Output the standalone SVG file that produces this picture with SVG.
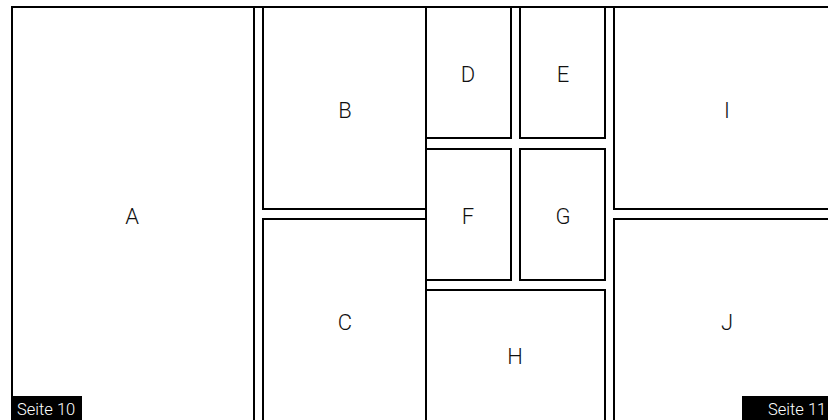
<svg xmlns="http://www.w3.org/2000/svg" width="828" height="420" viewBox="0 0 828 420">
  <style>
    .box { fill: #ffffff; stroke: #000000; stroke-width: 2; }
    .frame { fill: none; stroke: #000000; stroke-width: 2; }
    .lbl { font-family: Roboto, "Liberation Sans", sans-serif; font-weight: 300; font-size: 22px; fill: #111111; text-anchor: middle; }
    .page { fill: #000000; }
    .pagetxt { font-family: Roboto, "Liberation Sans", sans-serif; font-weight: 300; font-size: 16.5px; fill: #ffffff; }
  </style>
  <rect width="828" height="420" fill="#ffffff"/>
  <g id="frame">
    <rect class="frame" x="12" y="7" width="840" height="430"/>
  </g>
  <g id="A">
    <rect class="box" x="12" y="7" width="242" height="420"/>
    <text class="lbl" x="132" y="224">A</text>
  </g>
  <g id="B">
    <rect class="box" x="263" y="7" width="163" height="202"/>
    <text class="lbl" x="345" y="118">B</text>
  </g>
  <g id="C">
    <rect class="box" x="263" y="219" width="163" height="208"/>
    <text class="lbl" x="345" y="330">C</text>
  </g>
  <g id="D">
    <rect class="box" x="426" y="7" width="85" height="131"/>
    <text class="lbl" x="468" y="82">D</text>
  </g>
  <g id="E">
    <rect class="box" x="520" y="7" width="85" height="131"/>
    <text class="lbl" x="563" y="82">E</text>
  </g>
  <g id="F">
    <rect class="box" x="426" y="149" width="85" height="131"/>
    <text class="lbl" x="468" y="224">F</text>
  </g>
  <g id="G">
    <rect class="box" x="520" y="149" width="85" height="131"/>
    <text class="lbl" x="563" y="224">G</text>
  </g>
  <g id="H">
    <rect class="box" x="426" y="290" width="179" height="137"/>
    <text class="lbl" x="515" y="364">H</text>
  </g>
  <g id="I">
    <rect class="box" x="614" y="7" width="240" height="202"/>
    <text class="lbl" x="727" y="118">I</text>
  </g>
  <g id="J">
    <rect class="box" x="614" y="219" width="240" height="208"/>
    <text class="lbl" x="727" y="330">J</text>
  </g>
  <g id="connectors"></g>
  <g id="seite10">
    <rect class="page" x="11" y="396" width="71" height="24"/>
    <text class="pagetxt" x="17" y="415">Seite 10</text>
  </g>
  <g id="seite11">
    <rect class="page" x="742" y="396" width="90" height="24"/>
    <text class="pagetxt" x="768" y="415">Seite 11</text>
  </g>
</svg>
